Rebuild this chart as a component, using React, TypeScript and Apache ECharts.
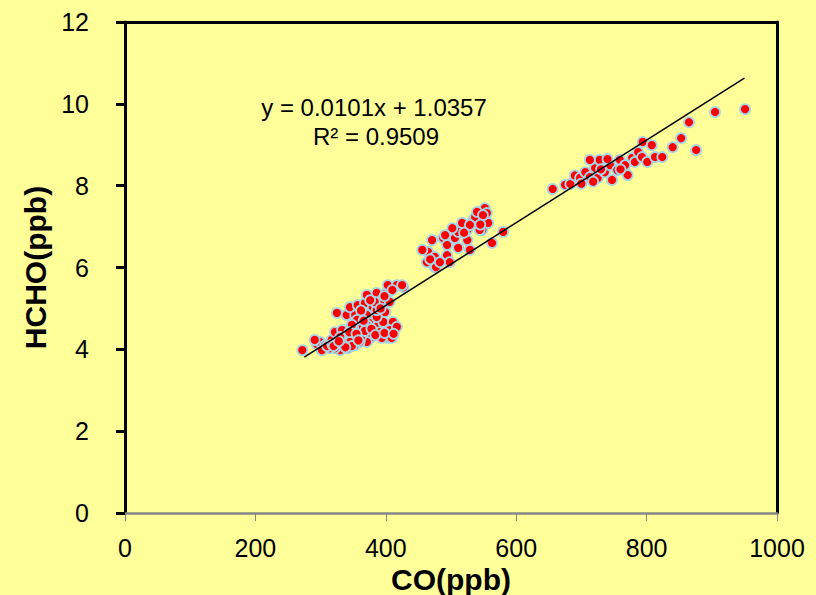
import React, { useEffect, useRef } from "react";
import * as echarts from "echarts";

// CO (ppb) vs HCHO (ppb)
const lowCluster: [number, number][] = [
  [272, 3.98], [294, 4.13], [299, 4.18], [291, 4.23], [307, 4.1], [317, 4.23], [322, 4.42],
  [333, 4.25], [340, 4.35], [350, 4.3], [353, 4.1], [342, 4.03], [330, 3.98], [325, 4.89],
  [340, 4.84], [353, 4.84], [345, 5.03], [357, 5.08], [368, 5.13], [371, 5.33], [386, 5.38],
  [394, 5.2], [401, 5.38], [403, 5.57], [417, 5.57], [427, 5.52], [380, 5.03], [399, 4.91],
  [371, 4.84], [376, 4.64], [388, 4.59], [396, 4.67], [411, 4.67], [406, 4.47], [417, 4.55],
  [403, 4.28], [391, 4.42], [380, 4.42], [376, 4.28], [365, 4.4], [360, 4.55], [350, 4.52],
  [337, 4.47], [333, 4.47], [371, 4.59], [356, 4.72], [386, 4.79], [394, 4.28], [409, 4.28],
  [371, 4.18], [360, 4.18], [345, 4.18], [322, 4.03], [314, 4.03], [302, 3.98], [386, 4.96],
  [383, 5.16], [376, 5.2], [406, 5.16], [425, 5.57], [310, 4.08], [318, 4.12], [326, 4.15],
  [335, 4.1], [348, 4.08], [362, 4.3], [368, 4.45], [378, 4.5], [384, 4.35], [398, 4.4],
  [412, 4.38], [366, 4.7], [392, 5.0], [398, 5.3], [410, 5.45], [362, 4.95], [348, 4.6],
  [330, 4.3], [344, 4.42], [355, 4.38], [320, 4.08], [338, 4.05], [358, 4.22], [328, 4.2],
];

const midCluster: [number, number][] = [
  [471, 6.67], [465, 6.38], [475, 6.26], [463, 6.13], [475, 6.01], [488, 6.72], [494, 6.55],
  [494, 6.3], [506, 6.72], [511, 6.87], [511, 6.48], [525, 6.92], [525, 6.67], [529, 6.43],
  [534, 7.16], [541, 7.16], [548, 6.92], [557, 7.09], [563, 6.6], [580, 6.87], [517, 7.09],
  [537, 7.23], [456, 6.43], [552, 7.45], [540, 7.36], [555, 7.33], [544, 6.92], [477, 6.01],
  [498, 6.13], [483, 6.13], [491, 6.79], [502, 6.96], [529, 7.04], [549, 7.28], [468, 6.2],
  [520, 6.85], [545, 7.05],
];

const highCluster: [number, number][] = [
  [656, 7.92], [675, 8.02], [683, 8.04], [690, 8.25], [698, 8.19], [706, 8.33], [713, 8.21],
  [721, 8.43], [725, 8.19], [736, 8.33], [744, 8.5], [747, 8.14], [755, 8.38], [759, 8.63],
  [767, 8.5], [771, 8.26], [778, 8.68], [782, 8.58], [787, 8.82], [728, 8.63], [713, 8.63],
  [794, 9.07], [808, 8.99], [793, 8.7], [801, 8.58], [813, 8.7], [824, 8.7], [840, 8.94],
  [853, 9.16], [865, 9.55], [876, 8.87], [905, 9.8], [951, 9.87], [700, 8.05], [730, 8.4],
  [740, 8.65], [760, 8.4], [718, 8.1],
];

// Linear trend line end points (y = 0.0101x + 1.0357)
const trendLine: [number, number][] = [
  [275, 3.81],
  [950, 10.63],
];

const equationText = "y = 0.0101x + 1.0357";
const r2Text = "R² = 0.9509";
const xTicks = { min: 0, max: 1000, interval: 200 };
const yTicks = { min: 0, max: 12, interval: 2 };

const FONT = "'Liberation Sans', Arial, sans-serif";
const BG = "#FFFF99";

export default function App() {
  const ref = useRef<HTMLDivElement>(null);

  useEffect(() => {
    if (!ref.current) return;
    const chart = echarts.init(ref.current, undefined, { renderer: "svg" });
    const allPoints = [...lowCluster, ...midCluster, ...highCluster];
    chart.setOption({
      animation: false,
      backgroundColor: BG,
      textStyle: { fontFamily: FONT },
      grid: {
        left: 125,
        right: 39,
        top: 22,
        bottom: 82,
        containLabel: false,
        outerBoundsMode: "none",
      },
      xAxis: [
        {
          type: "value",
          min: xTicks.min,
          max: xTicks.max,
          interval: xTicks.interval,
          position: "bottom",
          name: "CO(ppb)",
          nameLocation: "middle",
          nameGap: 50,
          nameTextStyle: { fontSize: 30, fontWeight: "bold", color: "#000", fontFamily: FONT },
          axisLine: { show: true, onZero: false, lineStyle: { color: "#878787", width: 2.5 } },
          axisTick: { show: true, length: 8, lineStyle: { color: "#878787", width: 1 } },
          axisLabel: {
            margin: 22,
            fontSize: 25,
            color: "#000",
            fontFamily: FONT,
            formatter: (v: number) => String(v),
          },
          splitLine: { show: false },
        },
        {
          type: "value",
          min: xTicks.min,
          max: xTicks.max,
          position: "top",
          axisLine: { show: true, onZero: false, lineStyle: { color: "#000", width: 3 } },
          axisTick: { show: false },
          axisLabel: { show: false },
          splitLine: { show: false },
        },
      ],
      yAxis: [
        {
          type: "value",
          min: yTicks.min,
          max: yTicks.max,
          interval: yTicks.interval,
          position: "left",
          name: "HCHO(ppb)",
          nameLocation: "middle",
          nameGap: 72,
          nameRotate: 90,
          nameTextStyle: { fontSize: 30, fontWeight: "bold", color: "#000", fontFamily: FONT },
          axisLine: { show: true, onZero: false, lineStyle: { color: "#000", width: 3 } },
          axisTick: { show: true, length: 9, lineStyle: { color: "#000", width: 3 } },
          axisLabel: {
            margin: 36,
            fontSize: 25,
            color: "#000",
            fontFamily: FONT,
            formatter: (v: number) => String(v),
          },
          splitLine: { show: false },
        },
        {
          type: "value",
          min: yTicks.min,
          max: yTicks.max,
          position: "right",
          axisLine: { show: true, onZero: false, lineStyle: { color: "#000", width: 3 } },
          axisTick: { show: false },
          axisLabel: { show: false },
          splitLine: { show: false },
        },
      ],
      series: [
        {
          type: "scatter",
          xAxisIndex: 0,
          yAxisIndex: 0,
          data: allPoints,
          symbol: "circle",
          symbolSize: 10,
          itemStyle: { color: "#FF0000", borderColor: "#A8D4E4", borderWidth: 1.8, opacity: 1 },
        },
        {
          type: "line",
          xAxisIndex: 0,
          yAxisIndex: 0,
          data: trendLine,
          symbol: "none",
          lineStyle: { color: "#000", width: 1.5 },
        },
      ],
      graphic: [
        {
          type: "text",
          x: 374,
          y: 107,
          style: {
            text: equationText,
            fontSize: 24,
            fontFamily: FONT,
            fill: "#000",
            textAlign: "center",
            textVerticalAlign: "middle",
          },
        },
        {
          type: "text",
          x: 376,
          y: 136,
          style: {
            text: r2Text,
            fontSize: 24,
            fontFamily: FONT,
            fill: "#000",
            textAlign: "center",
            textVerticalAlign: "middle",
          },
        },
      ],
    });
    return () => chart.dispose();
  }, []);

  return (
    <div
      ref={ref}
      style={{ position: "fixed", left: 0, top: 0, width: 816, height: 595, background: BG }}
    />
  );
}
